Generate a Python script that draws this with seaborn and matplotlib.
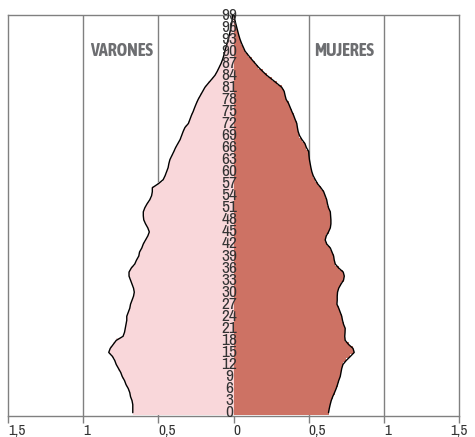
import numpy as np
import pandas as pd
import seaborn as sns
import matplotlib.pyplot as plt

# edades 0-99, % de poblacion por sexo
edades = list(range(100))
varones = [0.67, 0.67, 0.67, 0.675, 0.685, 0.69, 0.70, 0.715, 0.725, 0.74,
           0.75, 0.765, 0.78, 0.79, 0.805, 0.83, 0.82, 0.80, 0.78, 0.735,
           0.725, 0.72, 0.715, 0.71, 0.71, 0.70, 0.69, 0.685, 0.675, 0.665,
           0.66, 0.665, 0.675, 0.685, 0.695, 0.695, 0.68, 0.657, 0.645, 0.63,
           0.625, 0.61, 0.60, 0.585, 0.57, 0.56, 0.57, 0.585, 0.597, 0.60,
           0.60, 0.59, 0.575, 0.557, 0.545, 0.54, 0.54, 0.50, 0.468, 0.455,
           0.445, 0.435, 0.43, 0.423, 0.41, 0.397, 0.385, 0.37, 0.355, 0.345,
           0.335, 0.323, 0.30, 0.29, 0.28, 0.268, 0.258, 0.247, 0.235, 0.22,
           0.205, 0.19, 0.168, 0.145, 0.123, 0.108, 0.095, 0.082, 0.072, 0.064,
           0.057, 0.05, 0.042, 0.035, 0.028, 0.022, 0.017, 0.012, 0.008, 0.005]
mujeres = [0.632, 0.637, 0.643, 0.65, 0.66, 0.672, 0.683, 0.692, 0.70, 0.71,
           0.715, 0.72, 0.728, 0.75, 0.777, 0.803, 0.795, 0.765, 0.743, 0.74,
           0.742, 0.743, 0.732, 0.725, 0.72, 0.71, 0.70, 0.688, 0.69, 0.69,
           0.692, 0.70, 0.715, 0.732, 0.737, 0.73, 0.70, 0.677, 0.67, 0.666,
           0.655, 0.644, 0.62, 0.61, 0.617, 0.632, 0.644, 0.648, 0.648, 0.646,
           0.644, 0.632, 0.625, 0.62, 0.61, 0.60, 0.581, 0.559, 0.544, 0.53,
           0.521, 0.515, 0.51, 0.505, 0.502, 0.50, 0.485, 0.475, 0.455, 0.439,
           0.43, 0.425, 0.421, 0.41, 0.40, 0.388, 0.377, 0.366, 0.35, 0.343,
           0.337, 0.321, 0.288, 0.255, 0.221, 0.193, 0.166, 0.143, 0.12, 0.098,
           0.077, 0.065, 0.053, 0.043, 0.035, 0.028, 0.021, 0.014, 0.008, 0.003]
xticks = [-1.5, -1, -0.5, 0, 0.5, 1, 1.5]
xlabels = ['1,5', '1', '0,5', '0', '0,5', '1', '1,5']

COL_V = '#F9D7DA'
COL_M = '#CD7264'
GRIS = '#808080'
ESTRECHA = ['Archivo Narrow', 'Liberation Sans Narrow', 'Liberation Sans', 'DejaVu Sans']
TITULOS = ['Asap Condensed', 'Barlow Condensed', 'Liberation Sans', 'DejaVu Sans']

df = pd.DataFrame({'edad': edades, 'varones': -np.array(varones), 'mujeres': mujeres})

sns.set_style('white')
plt.rcParams['font.family'] = ESTRECHA

fig = plt.figure(figsize=(4.75, 4.37), dpi=100)
ax = fig.add_axes([8 / 475, 1 - 415.7 / 437, 451 / 475, 400.7 / 437])

for xv in [-1, -0.5, 0.5, 1]:
    ax.axvline(xv, color=GRIS, lw=1, zorder=0)

sns.barplot(data=df, x='varones', y='edad', orient='h', native_scale=True, width=1,
            color=COL_V, saturation=1, linewidth=0, ax=ax, zorder=2)
sns.barplot(data=df, x='mujeres', y='edad', orient='h', native_scale=True, width=1,
            color=COL_M, saturation=1, linewidth=0, ax=ax, zorder=2)
sns.lineplot(data=df, x='varones', y='edad', orient='y', estimator=None, sort=False,
             color='black', lw=1, ax=ax, zorder=3)
sns.lineplot(data=df, x='mujeres', y='edad', orient='y', estimator=None, sort=False,
             color='black', lw=1, ax=ax, zorder=3)

for a in range(0, 100, 3):
    ax.text(-0.027, a, str(a), ha='center', va='center', fontsize=12.5,
            color='#333333', zorder=4)

ax.text(-0.747, 90, 'VARONES', ha='center', va='center', fontsize=13,
        fontweight='bold', color='#6d6e71', family=TITULOS)
ax.text(0.737, 90, 'MUJERES', ha='center', va='center', fontsize=13,
        fontweight='bold', color='#6d6e71', family=TITULOS)

ax.set_xlim(-1.5, 1.5)
ax.set_ylim(-0.75, 99)
ax.set_xticks(xticks)
ax.set_xticklabels(xlabels, fontsize=11, color='#333333', ha='left')
ax.get_xticklabels()[-1].set_horizontalalignment('center')
ax.set_yticks([])
ax.set_xlabel('')
ax.set_ylabel('')
ax.tick_params(axis='x', bottom=True, length=5, width=1, color=GRIS, pad=1)
for s in ax.spines.values():
    s.set_color(GRIS)
    s.set_linewidth(1)
    s.set_visible(True)

plt.savefig('out.png', dpi=100)
